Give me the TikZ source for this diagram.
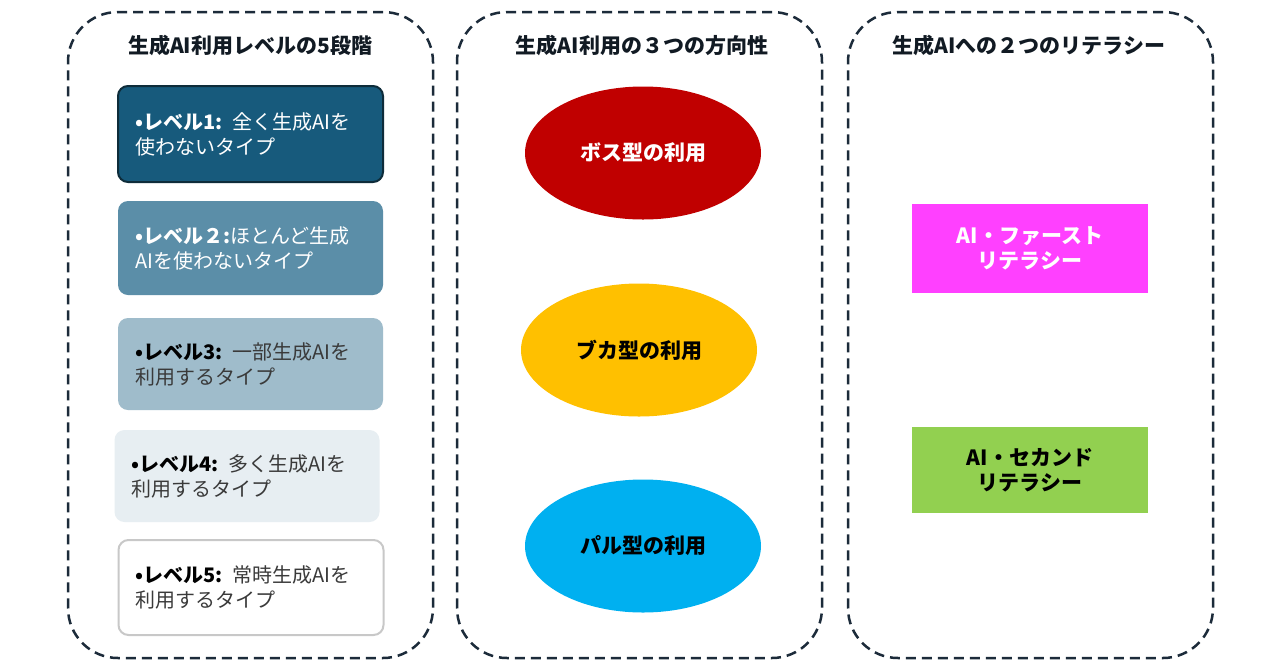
\documentclass[tikz,border=0pt]{standalone}
\usepackage{fontspec}
\setmainfont{Noto Sans CJK JP}
\usetikzlibrary{shapes.geometric}
\definecolor{navy}{HTML}{1C2B3A}
\definecolor{lvA}{HTML}{175A7C}
\definecolor{lvAb}{HTML}{0E2C3A}
\definecolor{lvB}{HTML}{5B8EA8}
\definecolor{lvC}{HTML}{9FBCCB}
\definecolor{lvD}{HTML}{E7EEF2}
\definecolor{lvEb}{HTML}{C8C8C8}
\definecolor{txtgray}{HTML}{3A3A3A}
\definecolor{bossred}{HTML}{C00000}
\definecolor{bukaor}{HTML}{FFC000}
\definecolor{palblue}{HTML}{00B0F0}
\definecolor{magent}{HTML}{FF40FF}
\definecolor{lgreen}{HTML}{92D050}
\tikzset{
  panel/.style={draw=navy, line width=2.5pt, dash pattern=on 10pt off 6pt, rounded corners=50pt, minimum width=365pt, minimum height=646pt},
  ptitle/.style={font=\fontsize{21pt}{24pt}\selectfont\bfseries, text=navy!60!black},
  lvbox/.style={rounded corners=10pt, minimum height=#1, text width=231pt, inner xsep=17pt, align=left, font=\fontsize{20pt}{25pt}\selectfont},
  ell/.style={ellipse, minimum width=236pt, minimum height=133pt, inner sep=0pt, font=\fontsize{21pt}{24pt}\selectfont\bfseries},
  litbox/.style={minimum width=236pt, minimum height=#1, inner sep=0pt, align=center, font=\fontsize{21pt}{25pt}\selectfont\bfseries}
}
\begin{document}
\begin{tikzpicture}[x=1pt,y=1pt]
\useasboundingbox[fill=white] (0,0) rectangle (1280,-670);
% panels
\node[panel] (p1) at (250.5,-335) {};
\node[panel] (p2) at (639.5,-335) {};
\node[panel] (p3) at (1030.5,-335) {};
% titles
\node[ptitle] (t1) at (250,-45) {生成AI利用レベルの5段階};
\node[ptitle] (t2) at (642,-45) {生成AI利用の３つの方向性};
\node[ptitle] (t3) at (1029,-45) {生成AIへの２つのリテラシー};
% levels
\node[lvbox=96pt, fill=lvA, draw=lvAb, line width=2pt, text=white] (l1) at (250.5,-134)
  {\textbf{•レベル1:} 全く生成AIを\\使わないタイプ};
\node[lvbox=94pt, fill=lvB, text=white] (l2) at (250.5,-248)
  {\textbf{•レベル２:}ほとんど生成\\AIを使わないタイプ};
\node[lvbox=92pt, fill=lvC, text=txtgray] (l3) at (250.5,-364)
  {\textbf{\color{black}•レベル3:} 一部生成AIを\\利用するタイプ};
\node[lvbox=92pt, fill=lvD, text=txtgray] (l4) at (247,-476)
  {\textbf{\color{black}•レベル4:} 多く生成AIを\\利用するタイプ};
\node[lvbox=95pt, fill=white, draw=lvEb, line width=2pt, text=txtgray] (l5) at (251,-587.5)
  {\textbf{\color{black}•レベル5:} 常時生成AIを\\利用するタイプ};
% ellipses
\node[ell, fill=bossred, text=white] (e1) at (643,-153) {ボス型の利用};
\node[ell, fill=bukaor, text=black] (e2) at (639,-350) {ブカ型の利用};
\node[ell, fill=palblue, text=black] (e3) at (643,-546) {パル型の利用};
% literacy
\node[litbox=89pt, fill=magent, text=white] (r1) at (1030,-248.5) {AI・ファースト\\リテラシー};
\node[litbox=86pt, fill=lgreen, text=black] (r2) at (1030,-470) {AI・セカンド\\リテラシー};
\end{tikzpicture}
\end{document}
